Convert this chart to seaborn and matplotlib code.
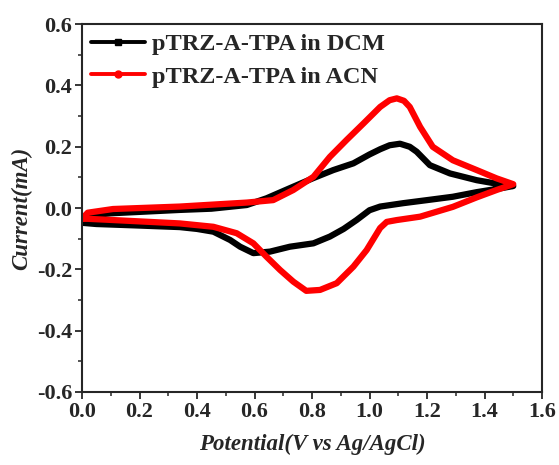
import numpy as np
import pandas as pd
import matplotlib
matplotlib.use("Agg")
import matplotlib.pyplot as plt
from matplotlib.lines import Line2D
from matplotlib.ticker import MultipleLocator, FormatStrFormatter
import seaborn as sns

# Cyclic voltammograms: forward (anodic) scan then reverse scan
dcm_potential = [0.00, 0.02, 0.10, 0.34, 0.45, 0.573, 0.642, 0.723, 0.805, 0.874, 0.944, 1.00, 1.037, 1.07, 1.106, 1.14, 1.164, 1.21, 1.28, 1.373, 1.44, 1.50,
                 1.465, 1.373, 1.29, 1.20, 1.117, 1.037, 1.00, 0.955, 0.91, 0.862, 0.805, 0.723, 0.654, 0.596, 0.55, 0.515, 0.457, 0.40, 0.34, 0.20, 0.05, 0.00]
dcm_current = [-0.045, -0.025, -0.017, -0.006, -0.002, 0.010, 0.032, 0.065, 0.098, 0.124, 0.146, 0.175, 0.192, 0.205, 0.210, 0.200, 0.184, 0.140, 0.113, 0.091, 0.080, 0.072,
               0.066, 0.052, 0.037, 0.026, 0.016, 0.005, -0.007, -0.039, -0.068, -0.093, -0.115, -0.126, -0.142, -0.147, -0.126, -0.104, -0.077, -0.068, -0.062, -0.057, -0.052, -0.048]

acn_potential = [0.00, 0.02, 0.108, 0.34, 0.573, 0.665, 0.735, 0.805, 0.862, 0.92, 0.98, 1.037, 1.07, 1.095, 1.12, 1.14, 1.176, 1.22, 1.29, 1.373, 1.442, 1.50,
                 1.442, 1.373, 1.29, 1.176, 1.095, 1.06, 1.037, 0.99, 0.944, 0.886, 0.828, 0.78, 0.735, 0.689, 0.642, 0.596, 0.538, 0.457, 0.34, 0.108, 0.02, 0.00]
acn_current = [-0.035, -0.015, -0.003, 0.005, 0.018, 0.026, 0.059, 0.102, 0.167, 0.222, 0.277, 0.330, 0.352, 0.358, 0.350, 0.330, 0.265, 0.200, 0.156, 0.124, 0.097, 0.078,
               0.059, 0.035, 0.004, -0.028, -0.039, -0.045, -0.065, -0.137, -0.191, -0.245, -0.267, -0.270, -0.240, -0.202, -0.159, -0.115, -0.082, -0.061, -0.050, -0.039, -0.035, -0.035]

labels = ["pTRZ-A-TPA in DCM", "pTRZ-A-TPA in ACN"]
colors = ["black", "#ff0000"]
legend_markers = ["s", "o"]

df = pd.concat([
    pd.DataFrame({"Potential": dcm_potential, "Current": dcm_current, "Sample": labels[0]}),
    pd.DataFrame({"Potential": acn_potential, "Current": acn_current, "Sample": labels[1]}),
])

sns.set_style("ticks")
plt.rcParams["font.family"] = ["Liberation Serif", "DejaVu Serif"]
plt.rcParams["font.weight"] = "bold"

fig = plt.figure(figsize=(5.59, 4.65), dpi=100)
ax = fig.add_axes([0.1467, 0.157, 0.8229, 0.791])

for lab, col in zip(labels, colors):
    sub = df[df["Sample"] == lab]
    sns.lineplot(data=sub, x="Potential", y="Current", sort=False, estimator=None,
                 color=col, linewidth=4.5, ax=ax, legend=False,
                 solid_joinstyle="round", solid_capstyle="round")

ax.set_xlim(0.0, 1.6)
ax.set_ylim(-0.6, 0.6)
ax.xaxis.set_major_locator(MultipleLocator(0.2))
ax.xaxis.set_minor_locator(MultipleLocator(0.1))
ax.yaxis.set_major_locator(MultipleLocator(0.2))
ax.yaxis.set_minor_locator(MultipleLocator(0.1))
ax.xaxis.set_major_formatter(FormatStrFormatter("%.1f"))
ax.yaxis.set_major_formatter(FormatStrFormatter("%.1f"))
ax.tick_params(axis="both", which="major", direction="out", length=5, width=1.3,
               labelsize=16, pad=2)
ax.tick_params(axis="both", which="minor", direction="out", length=3, width=1.1)
for lbl in ax.get_xticklabels() + ax.get_yticklabels():
    lbl.set_fontweight("bold")
for sp in ax.spines.values():
    sp.set_linewidth(1.5)
    sp.set_visible(True)

ax.set_xlabel("Potential(V vs Ag/AgCl)", fontsize=16.5, fontweight="bold", style="italic", labelpad=9)
ax.set_ylabel("Current(mA)", fontsize=16.5, fontweight="bold", style="italic", labelpad=3)

handles = [Line2D([0], [0], color=c, linewidth=2.8, marker=m, markersize=5)
           for c, m in zip(colors, legend_markers)]
ax.legend(handles, labels, loc="upper left", frameon=False,
          prop={"weight": "bold", "size": 17.5}, handlelength=2.2, handletextpad=0.3,
          borderaxespad=0.0, borderpad=0.38, labelspacing=0.42,
          bbox_to_anchor=(0.0, 1.0))

fig.savefig("out.png", dpi=100)
